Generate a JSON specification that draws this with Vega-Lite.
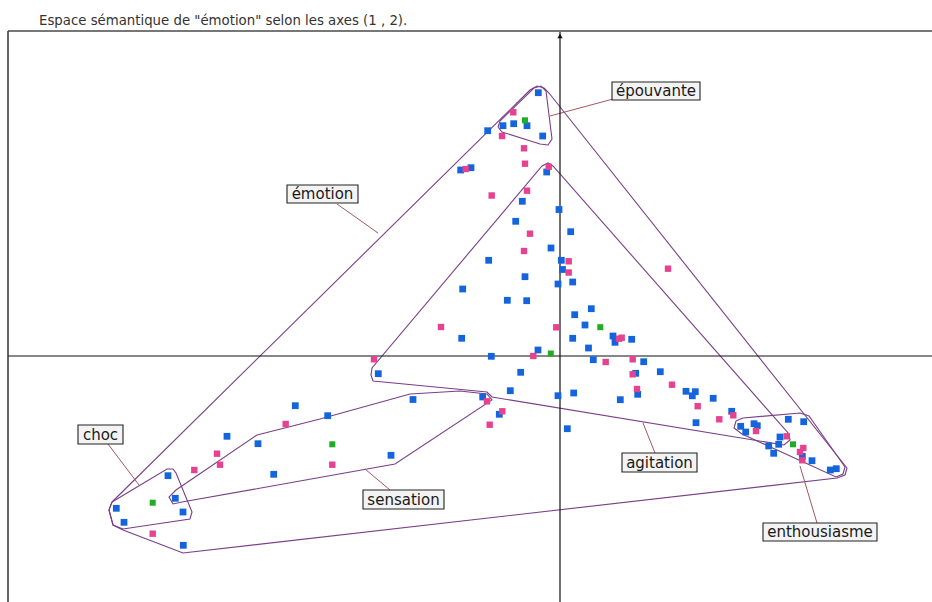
{
  "$schema": "https://vega.github.io/schema/vega-lite/v6.json",
  "width": 924,
  "height": 571,
  "autosize": "none",
  "padding": {"left": 8, "top": 31, "right": 0, "bottom": 0},
  "background": "white",
  "config": {"view": {"stroke": null}},
  "title": {"text": "Espace sémantique de \"émotion\" selon les axes (1 , 2).", "anchor": "start", "frame": "group", "offset": 3, "dx": 31, "font": "DejaVu Sans", "fontSize": 13.3, "fontWeight": "normal", "color": "#333"},
  "datasets": {
    "points": [
      {"x": -21.7, "y": 263.3, "c": "b"}, {"x": -57, "y": 230.3, "c": "b"}, {"x": -46.3, "y": 232.3, "c": "b"}, {"x": -33, "y": 230.3, "c": "b"}, {"x": -17.3, "y": 220, "c": "b"}, {"x": -72.3, "y": 225.3, "c": "b"}, {"x": -13.3, "y": 184, "c": "b"}, {"x": -99.3, "y": 186, "c": "b"}, {"x": -89, "y": 188.3, "c": "b"}, {"x": -37.7, "y": 154.7, "c": "b"}, {"x": -1, "y": 146.5, "c": "b"}, {"x": -44.3, "y": 134.7, "c": "b"}, {"x": 10.7, "y": 124.3, "c": "b"}, {"x": -9, "y": 108, "c": "b"}, {"x": -71.3, "y": 95.7, "c": "b"}, {"x": 1.3, "y": 95.7, "c": "b"}, {"x": 2.5, "y": 86.5, "c": "b"}, {"x": -35, "y": 79.3, "c": "b"}, {"x": 12.7, "y": 74, "c": "b"}, {"x": -2, "y": 72, "c": "b"}, {"x": -97.3, "y": 67, "c": "b"}, {"x": -52.7, "y": 55.7, "c": "b"}, {"x": -33.3, "y": 55.3, "c": "b"}, {"x": 31.3, "y": 47.3, "c": "b"}, {"x": 14.7, "y": 41.3, "c": "b"}, {"x": 25, "y": 31, "c": "b"}, {"x": -98.3, "y": 17.7, "c": "b"}, {"x": 12.7, "y": 17.7, "c": "b"}, {"x": 53, "y": 20, "c": "b"}, {"x": 55, "y": 13.7, "c": "b"}, {"x": 71.7, "y": 16.7, "c": "b"}, {"x": 28.5, "y": 8, "c": "b"}, {"x": -22, "y": 6, "c": "b"}, {"x": -68.7, "y": -0.3, "c": "b"}, {"x": 33.3, "y": -3.7, "c": "b"}, {"x": 83.7, "y": -5.7, "c": "b"}, {"x": -181.7, "y": -17.7, "c": "b"}, {"x": -39.3, "y": -16.3, "c": "b"}, {"x": 75.7, "y": -17.3, "c": "b"}, {"x": 100.3, "y": -15.7, "c": "b"}, {"x": -49.7, "y": -34.7, "c": "b"}, {"x": -2, "y": -39.7, "c": "b"}, {"x": 13.7, "y": -37, "c": "b"}, {"x": -77.3, "y": -41, "c": "b"}, {"x": -147, "y": -43.5, "c": "b"}, {"x": 77.7, "y": -38.3, "c": "b"}, {"x": 126, "y": -35.3, "c": "b"}, {"x": 135.3, "y": -35.7, "c": "b"}, {"x": 132.3, "y": -39.8, "c": "b"}, {"x": 153.2, "y": -42.3, "c": "b"}, {"x": 60.3, "y": -43.7, "c": "b"}, {"x": 136, "y": -66.7, "c": "b"}, {"x": 171.7, "y": -55.3, "c": "b"}, {"x": 180.7, "y": -70.3, "c": "b"}, {"x": 185.7, "y": -76, "c": "b"}, {"x": 194, "y": -67.7, "c": "b"}, {"x": 197.3, "y": -69.7, "c": "b"}, {"x": 228.3, "y": -63.3, "c": "b"}, {"x": 243.7, "y": -65.7, "c": "b"}, {"x": 220, "y": -81, "c": "b"}, {"x": 218.7, "y": -88.3, "c": "b"}, {"x": 208.7, "y": -90, "c": "b"}, {"x": 242.3, "y": -100.3, "c": "b"}, {"x": 213.7, "y": -97.3, "c": "b"}, {"x": 252, "y": -104.7, "c": "b"}, {"x": 270.3, "y": -114, "c": "b"}, {"x": 276.3, "y": -112.7, "c": "b"}, {"x": -60.7, "y": -58.3, "c": "b"}, {"x": 7.3, "y": -72.7, "c": "b"}, {"x": -232.3, "y": -59.7, "c": "b"}, {"x": -169, "y": -99.3, "c": "b"}, {"x": -264.7, "y": -49.7, "c": "b"}, {"x": -333, "y": -80.3, "c": "b"}, {"x": -302, "y": -87.7, "c": "b"}, {"x": -392, "y": -119.7, "c": "b"}, {"x": -286.3, "y": -118.3, "c": "b"}, {"x": -384.7, "y": -142.3, "c": "b"}, {"x": -443.7, "y": -152.3, "c": "b"}, {"x": -377, "y": -156, "c": "b"}, {"x": -436, "y": -166.3, "c": "b"}, {"x": -376.7, "y": -189.3, "c": "b"},
      {"x": -46.7, "y": 243.7, "c": "p"}, {"x": -58, "y": 220, "c": "p"}, {"x": -36, "y": 207.7, "c": "p"}, {"x": -35, "y": 192.3, "c": "p"}, {"x": -11.3, "y": 189.3, "c": "p"}, {"x": -94.3, "y": 187, "c": "p"}, {"x": -68.3, "y": 160.5, "c": "p"}, {"x": -33, "y": 165.3, "c": "p"}, {"x": -30, "y": 122.3, "c": "p"}, {"x": -36, "y": 105, "c": "p"}, {"x": 8.7, "y": 94.7, "c": "p"}, {"x": 8.7, "y": 83.5, "c": "p"}, {"x": 108, "y": 87.3, "c": "p"}, {"x": -119, "y": 29, "c": "p"}, {"x": -3.7, "y": 28.7, "c": "p"}, {"x": 61.7, "y": 18.3, "c": "p"}, {"x": 59, "y": 17.3, "c": "p"}, {"x": -26.7, "y": 0, "c": "p"}, {"x": -186, "y": -3.3, "c": "p"}, {"x": 45.7, "y": -6, "c": "p"}, {"x": 72.7, "y": -3.3, "c": "p"}, {"x": 72.7, "y": -18.3, "c": "p"}, {"x": 112, "y": -28.7, "c": "p"}, {"x": 77, "y": -33, "c": "p"}, {"x": 137.7, "y": -50.2, "c": "p"}, {"x": 159.3, "y": -63.3, "c": "p"}, {"x": 173.3, "y": -59.3, "c": "p"}, {"x": 196, "y": -75, "c": "p"}, {"x": 226.7, "y": -80.3, "c": "p"}, {"x": 243.3, "y": -92, "c": "p"}, {"x": 240, "y": -96, "c": "p"}, {"x": 242.3, "y": -104.3, "c": "p"}, {"x": -73, "y": -45.3, "c": "p"}, {"x": -57.7, "y": -55.3, "c": "p"}, {"x": -70.3, "y": -68.7, "c": "p"}, {"x": -227.7, "y": -108.7, "c": "p"}, {"x": -274.3, "y": -68, "c": "p"}, {"x": -343, "y": -97.7, "c": "p"}, {"x": -340, "y": -108.7, "c": "p"}, {"x": -365.7, "y": -114, "c": "p"}, {"x": -407.3, "y": -177.7, "c": "p"},
      {"x": -35, "y": 235.7, "c": "g"}, {"x": 40.3, "y": 28.8, "c": "g"}, {"x": -9.2, "y": 2.5, "c": "g"}, {"x": 233, "y": -88.3, "c": "g"}, {"x": -227.7, "y": -88.3, "c": "g"}, {"x": -407.3, "y": -146.7, "c": "g"}
    ],
    "hulls": [
      {"g": "émotion", "i": 0, "x": -448, "y": -146}, {"g": "émotion", "i": 1, "x": -30, "y": 266}, {"g": "émotion", "i": 2, "x": -23, "y": 270}, {"g": "émotion", "i": 3, "x": -16, "y": 268}, {"g": "émotion", "i": 4, "x": -11, "y": 263}, {"g": "émotion", "i": 5, "x": 287, "y": -112}, {"g": "émotion", "i": 6, "x": 285, "y": -119}, {"g": "émotion", "i": 7, "x": 277, "y": -122}, {"g": "émotion", "i": 8, "x": -377, "y": -197}, {"g": "émotion", "i": 9, "x": -437, "y": -174}, {"g": "émotion", "i": 10, "x": -447, "y": -169}, {"g": "émotion", "i": 11, "x": -451, "y": -154}, {"g": "émotion", "i": 12, "x": -448, "y": -146},
      {"g": "épouvante", "i": 0, "x": -62, "y": 229}, {"g": "épouvante", "i": 1, "x": -60, "y": 235}, {"g": "épouvante", "i": 2, "x": -26, "y": 268}, {"g": "épouvante", "i": 3, "x": -19, "y": 270}, {"g": "épouvante", "i": 4, "x": -14, "y": 265}, {"g": "épouvante", "i": 5, "x": -8, "y": 217}, {"g": "épouvante", "i": 6, "x": -12, "y": 211}, {"g": "épouvante", "i": 7, "x": -20, "y": 212}, {"g": "épouvante", "i": 8, "x": -58, "y": 224}, {"g": "épouvante", "i": 9, "x": -62, "y": 229},
      {"g": "agitation", "i": 0, "x": -187, "y": -25}, {"g": "agitation", "i": 1, "x": -73, "y": -36}, {"g": "agitation", "i": 2, "x": -68, "y": -41}, {"g": "agitation", "i": 3, "x": 224, "y": -89}, {"g": "agitation", "i": 4, "x": 230, "y": -84}, {"g": "agitation", "i": 5, "x": 229, "y": -78}, {"g": "agitation", "i": 6, "x": -7, "y": 190}, {"g": "agitation", "i": 7, "x": -12, "y": 193}, {"g": "agitation", "i": 8, "x": -18, "y": 190}, {"g": "agitation", "i": 9, "x": -188, "y": -12}, {"g": "agitation", "i": 10, "x": -189, "y": -19}, {"g": "agitation", "i": 11, "x": -187, "y": -25},
      {"g": "sensation", "i": 0, "x": -303, "y": -79}, {"g": "sensation", "i": 1, "x": -240, "y": -63}, {"g": "sensation", "i": 2, "x": -150, "y": -38}, {"g": "sensation", "i": 3, "x": -100, "y": -35}, {"g": "sensation", "i": 4, "x": -73, "y": -38}, {"g": "sensation", "i": 5, "x": -68, "y": -44}, {"g": "sensation", "i": 6, "x": -165, "y": -108}, {"g": "sensation", "i": 7, "x": -260, "y": -125}, {"g": "sensation", "i": 8, "x": -378, "y": -146}, {"g": "sensation", "i": 9, "x": -387, "y": -148}, {"g": "sensation", "i": 10, "x": -391, "y": -141}, {"g": "sensation", "i": 11, "x": -384, "y": -134}, {"g": "sensation", "i": 12, "x": -303, "y": -79},
      {"g": "choc", "i": 0, "x": -448, "y": -146}, {"g": "choc", "i": 1, "x": -393, "y": -113}, {"g": "choc", "i": 2, "x": -387, "y": -113}, {"g": "choc", "i": 3, "x": -384, "y": -117}, {"g": "choc", "i": 4, "x": -368, "y": -156}, {"g": "choc", "i": 5, "x": -370, "y": -163}, {"g": "choc", "i": 6, "x": -437, "y": -173}, {"g": "choc", "i": 7, "x": -447, "y": -169}, {"g": "choc", "i": 8, "x": -451, "y": -154}, {"g": "choc", "i": 9, "x": -448, "y": -146},
      {"g": "enthousiasme", "i": 0, "x": 176, "y": -65}, {"g": "enthousiasme", "i": 1, "x": 183, "y": -62}, {"g": "enthousiasme", "i": 2, "x": 240, "y": -57}, {"g": "enthousiasme", "i": 3, "x": 249, "y": -60}, {"g": "enthousiasme", "i": 4, "x": 285, "y": -111}, {"g": "enthousiasme", "i": 5, "x": 283, "y": -118}, {"g": "enthousiasme", "i": 6, "x": 276, "y": -121}, {"g": "enthousiasme", "i": 7, "x": 182, "y": -78}, {"g": "enthousiasme", "i": 8, "x": 174, "y": -72}, {"g": "enthousiasme", "i": 9, "x": 176, "y": -65}
    ],
    "leaders": [
      {"g": "émotion", "i": 0, "x": -223, "y": 152}, {"g": "émotion", "i": 1, "x": -182, "y": 123},
      {"g": "épouvante", "i": 0, "x": -10, "y": 240}, {"g": "épouvante", "i": 1, "x": 53, "y": 257},
      {"g": "choc", "i": 0, "x": -452, "y": -88}, {"g": "choc", "i": 1, "x": -421, "y": -129},
      {"g": "sensation", "i": 0, "x": -170, "y": -134}, {"g": "sensation", "i": 1, "x": -195, "y": -113},
      {"g": "agitation", "i": 0, "x": 95, "y": -97}, {"g": "agitation", "i": 1, "x": 83, "y": -67},
      {"g": "enthousiasme", "i": 0, "x": 257, "y": -167}, {"g": "enthousiasme", "i": 1, "x": 240, "y": -110}
    ],
    "labels": [
      {"label": "émotion", "x": -237.5, "y": 162, "bx1": -273, "bx2": -202, "by1": 171, "by2": 153},
      {"label": "épouvante", "x": 96, "y": 265, "bx1": 52, "bx2": 140, "by1": 274, "by2": 256},
      {"label": "choc", "x": -459.5, "y": -78.5, "bx1": -482, "bx2": -437, "by1": -69, "by2": -88},
      {"label": "sensation", "x": -156.5, "y": -143.5, "bx1": -197, "bx2": -116, "by1": -134, "by2": -153},
      {"label": "agitation", "x": 99.5, "y": -106.5, "bx1": 62, "bx2": 137, "by1": -97, "by2": -116},
      {"label": "enthousiasme", "x": 260, "y": -176, "bx1": 203, "bx2": 317, "by1": -167, "by2": -185}
    ]
  },
  "layer": [
    {
      "data": {"name": "hulls"},
      "mark": {"type": "line", "color": "#7a3f88", "strokeWidth": 1.1, "interpolate": "linear"},
      "encoding": {
        "x": {"field": "x", "type": "quantitative", "scale": {"domain": [-552, 372], "nice": false, "zero": false}, "axis": null},
        "y": {"field": "y", "type": "quantitative", "scale": {"domain": [-246, 325], "nice": false, "zero": false}, "axis": null},
        "detail": {"field": "g"},
        "order": {"field": "i", "type": "quantitative"}
      }
    },
    {
      "data": {"name": "leaders"},
      "mark": {"type": "line", "color": "#a4585e", "strokeWidth": 1},
      "encoding": {
        "x": {"field": "x", "type": "quantitative"},
        "y": {"field": "y", "type": "quantitative"},
        "detail": {"field": "g"},
        "order": {"field": "i", "type": "quantitative"}
      }
    },
    {
      "data": {"values": [{}]},
      "mark": {"type": "rule", "color": "#111", "strokeWidth": 1.2},
      "encoding": {"y": {"datum": 0, "type": "quantitative"}}
    },
    {
      "data": {"values": [{}]},
      "mark": {"type": "rule", "color": "#111", "strokeWidth": 1.2},
      "encoding": {"x": {"datum": 0, "type": "quantitative"}}
    },
    {
      "data": {"values": [{}]},
      "mark": {"type": "rule", "color": "#777", "strokeWidth": 2},
      "encoding": {"y": {"datum": 325, "type": "quantitative"}}
    },
    {
      "data": {"values": [{}]},
      "mark": {"type": "rule", "color": "#333", "strokeWidth": 1.5},
      "encoding": {"x": {"datum": -552, "type": "quantitative"}}
    },
    {
      "data": {"values": [{}]},
      "mark": {"type": "point", "shape": "triangle-up", "filled": true, "color": "#111", "size": 28, "opacity": 1},
      "encoding": {"x": {"datum": 0, "type": "quantitative"}, "y": {"datum": 320, "type": "quantitative"}}
    },
    {
      "data": {"name": "points"},
      "mark": {"type": "point", "shape": "square", "filled": true, "opacity": 1, "strokeWidth": 0},
      "encoding": {
        "x": {"field": "x", "type": "quantitative"},
        "y": {"field": "y", "type": "quantitative"},
        "color": {"field": "c", "type": "nominal", "scale": {"domain": ["b", "p", "g"], "range": ["#1465dc", "#e6428f", "#1fae23"]}, "legend": null},
        "size": {"field": "c", "type": "nominal", "scale": {"domain": ["b", "p", "g"], "range": [46, 36, 38]}, "legend": null}
      }
    },
    {
      "data": {"name": "labels"},
      "mark": {"type": "rect", "fill": "#f3f3f3", "stroke": "#222", "strokeWidth": 1.1},
      "encoding": {
        "x": {"field": "bx1", "type": "quantitative"},
        "x2": {"field": "bx2"},
        "y": {"field": "by1", "type": "quantitative"},
        "y2": {"field": "by2"}
      }
    },
    {
      "data": {"name": "labels"},
      "mark": {"type": "text", "font": "DejaVu Sans", "fontSize": 15, "color": "#1a1a1a", "align": "center", "baseline": "middle"},
      "encoding": {
        "x": {"field": "x", "type": "quantitative"},
        "y": {"field": "y", "type": "quantitative"},
        "text": {"field": "label"}
      }
    }
  ]
}
